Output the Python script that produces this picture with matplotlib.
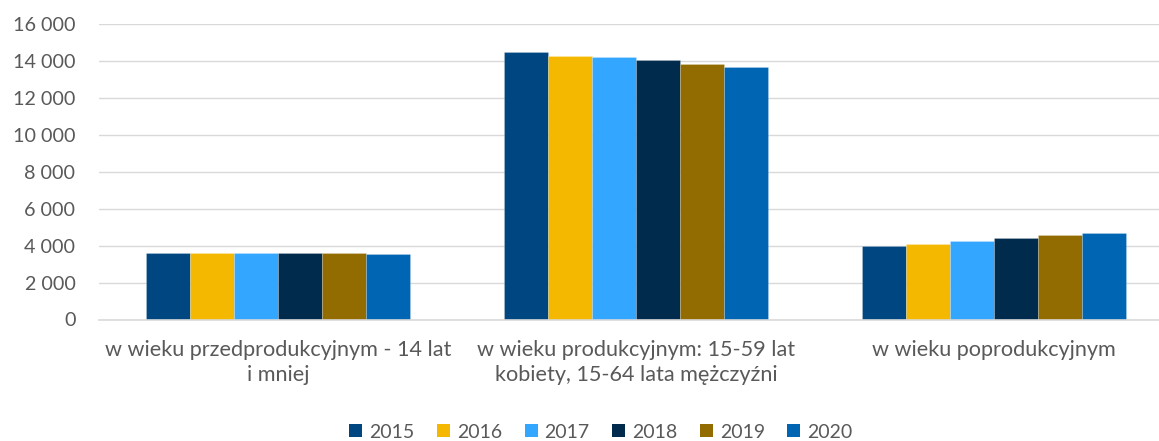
import matplotlib
matplotlib.use("Agg")
import matplotlib.pyplot as plt
import numpy as np
from matplotlib.ticker import FuncFormatter
from matplotlib.patches import Patch

categories = ["w wieku przedprodukcyjnym - 14 lat\ni mniej",
              "w wieku produkcyjnym: 15-59 lat\nkobiety, 15-64 lata mężczyźni",
              "w wieku poprodukcyjnym"]
years = ["2015", "2016", "2017", "2018", "2019", "2020"]
values = {
    "2015": [3610, 14470, 3960],
    "2016": [3610, 14290, 4110],
    "2017": [3620, 14240, 4255],
    "2018": [3620, 14040, 4420],
    "2019": [3625, 13820, 4560],
    "2020": [3560, 13690, 4690],
}
colors = ["#004680", "#F5B800", "#33A6FF", "#002B4D", "#926C00", "#0066B3"]

plt.rcParams['font.family'] = ['Lato', 'DejaVu Sans']
W, H = 1159, 441
fig = plt.figure(figsize=(W / 100, H / 100), dpi=100)
left_px, right_px, top_px, bot_px = 99, 1159, 24, 319.5
ax = fig.add_axes([left_px / W, 1 - bot_px / H, (right_px - left_px) / W, (bot_px - top_px) / H])

x = np.arange(len(categories))
bw = 0.1225
for i, (yr, c) in enumerate(zip(years, colors)):
    ax.bar(x + (i - 2.5) * bw, values[yr], width=bw, color=c, zorder=3,
           edgecolor=(1, 1, 1, 0.35), linewidth=0.4)

ax.set_ylim(0, 16000)
ax.set_yticks(range(0, 16001, 2000))
ax.yaxis.set_major_formatter(FuncFormatter(lambda v, p: f"{int(v):,}".replace(",", " ")))
ax.set_xlim(-0.5, 2.5 - (1173 - 1159) / 358)
ax.set_xticks(x)
ax.set_xticklabels(categories, fontsize=15.6, color="#595959", linespacing=1.32)
ax.tick_params(axis='y', length=0, pad=17, labelsize=14.2, labelcolor="#595959")
ax.tick_params(axis='x', length=0, pad=15)
ax.grid(axis='y', color="#D9D9D9", linewidth=1.0, zorder=0)
for s in ["top", "right", "left"]:
    ax.spines[s].set_visible(False)
ax.spines["bottom"].set_color("#D9D9D9")
ax.spines["bottom"].set_linewidth(1.2)
ax.spines["bottom"].set_zorder(4)

handles = [Patch(facecolor=c, label=y) for y, c in zip(years, colors)]
fig.legend(handles=handles, loc="center", bbox_to_anchor=(601 / W, 1 - 432 / H),
           ncol=6, frameon=False, fontsize=14, labelcolor="#595959",
           handlelength=0.67, handleheight=0.67, handletextpad=0.36, columnspacing=1.15,
           borderpad=0.2)

fig.savefig("out.png", dpi=100)
